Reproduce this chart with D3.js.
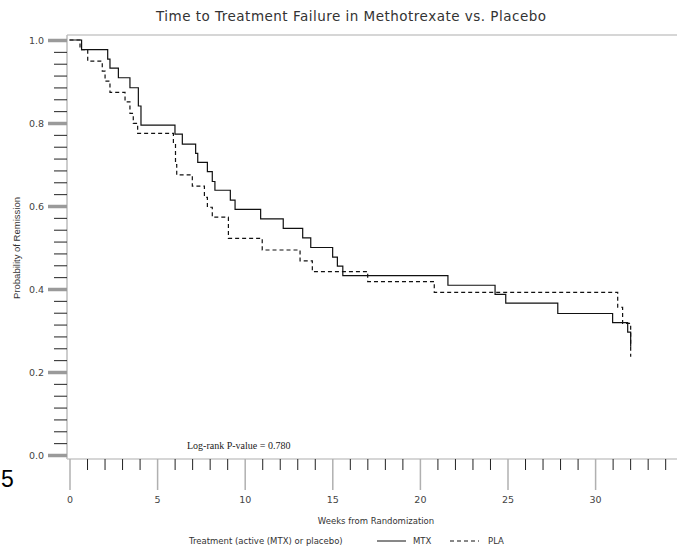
<!DOCTYPE html>
<html>
<head>
<meta charset="utf-8">
<script src="https://cdn.jsdelivr.net/npm/d3@7"></script>
<style>
  body { margin: 0; background: #fff; }
  svg { display: block; }
</style>
</head>
<body>
<div id="chart"></div>
<script>
const width = 677;
const height = 546;

// Kaplan-Meier steps (weeks, survival)
const mtxWeeks = [0, 0.69, 2.18, 2.31, 2.79, 3.45, 3.93, 4.08, 6.02, 6.44, 7.2, 7.32, 7.87, 8.15, 8.3, 9.18, 9.45, 10.91, 12.2, 13.31, 13.77, 15.02, 15.29, 15.6, 21.6, 24.29, 24.9, 27.87, 31.0, 31.86, 32.03];
const mtxSurv = [1.0, 0.977, 0.954, 0.932, 0.909, 0.885, 0.841, 0.795, 0.773, 0.749, 0.727, 0.705, 0.683, 0.659, 0.638, 0.614, 0.592, 0.569, 0.546, 0.523, 0.5, 0.477, 0.455, 0.432, 0.409, 0.387, 0.366, 0.341, 0.319, 0.296, 0.261];
const plaWeeks = [0, 0.6, 1.04, 1.87, 2.03, 2.31, 3.17, 3.45, 3.64, 3.89, 5.93, 6.05, 6.12, 7.01, 7.7, 7.87, 8.15, 9.07, 11.0, 13.16, 13.86, 17.02, 20.82, 31.29, 31.57, 32.03];
const plaSurv = [1.0, 0.977, 0.949, 0.925, 0.901, 0.874, 0.851, 0.823, 0.799, 0.775, 0.75, 0.7, 0.675, 0.648, 0.621, 0.597, 0.573, 0.522, 0.494, 0.468, 0.442, 0.418, 0.392, 0.356, 0.317, 0.237];

const xMajorTicks = [0, 5, 10, 15, 20, 25, 30];
const yMajorTicks = [0, 0.2, 0.4, 0.6, 0.8, 1.0];
const seriesNames = ["MTX", "PLA"];

const titleText = "Time to Treatment Failure in Methotrexate vs. Placebo";
const xLabel = "Weeks from Randomization";
const yLabel = "Probability of Remission";
const legendTitle = "Treatment (active (MTX) or placebo)";
const pValueText = "Log-rank P-value = 0.780";

const axisX = 67;     // y axis line position
const axisY = 459;    // x axis line position

const x = d3.scaleLinear().domain([0, 35]).range([69.5, 682.7]);
const y = d3.scaleLinear().domain([0, 1]).range([455, 40]);

const svg = d3.select("#chart")
  .append("svg")
  .attr("width", width)
  .attr("height", height);

svg.append("rect").attr("width", width).attr("height", height).attr("fill", "#fff");

// title
svg.append("text")
  .attr("x", 351)
  .attr("y", 21)
  .attr("text-anchor", "middle")
  .attr("font-family", "DejaVu Sans")
  .attr("font-size", 13.5)
  .attr("textLength", 390)
  .attr("lengthAdjust", "spacing")
  .attr("fill", "#333")
  .text(titleText);

// frame lines
svg.append("line")
  .attr("x1", axisX).attr("x2", width)
  .attr("y1", 35).attr("y2", 35)
  .attr("stroke", "#c8c8c8").attr("stroke-width", 1.5);
svg.append("line")
  .attr("x1", axisX).attr("x2", axisX)
  .attr("y1", 35).attr("y2", axisY)
  .attr("stroke", "#bdbdbd").attr("stroke-width", 1.5);
svg.append("line")
  .attr("x1", axisX).attr("x2", width)
  .attr("y1", axisY).attr("y2", axisY)
  .attr("stroke", "#c8c8c8").attr("stroke-width", 1.5);

// y axis: minor ticks (6 between majors) then major ticks with labels
const yMinor = [];
for (let i = 0; i < yMajorTicks.length - 1; i++) {
  const step = (yMajorTicks[i + 1] - yMajorTicks[i]) / 7;
  for (let k = 1; k < 7; k++) yMinor.push(yMajorTicks[i] + step * k);
}
svg.append("g")
  .attr("transform", `translate(${axisX},0)`)
  .call(d3.axisLeft(y).tickValues(yMinor).tickSize(13).tickFormat(""))
  .call(g => g.select(".domain").remove())
  .call(g => g.selectAll(".tick line").attr("stroke", "#222").attr("stroke-width", 1));

svg.append("g")
  .attr("transform", `translate(${axisX},0)`)
  .call(d3.axisLeft(y).tickValues(yMajorTicks).tickSize(19).tickPadding(4).tickFormat(d3.format(".1f")))
  .call(g => g.select(".domain").remove())
  .call(g => g.selectAll(".tick line").attr("stroke", "#9a9a9a").attr("stroke-width", 3.5))
  .call(g => g.selectAll(".tick text")
    .attr("font-family", "DejaVu Sans")
    .attr("font-size", 9.5)
    .attr("fill", "#444"));

// x axis: minor ticks every week, major every 5
const xMinor = d3.range(0, 35).filter(d => !xMajorTicks.includes(d));
svg.append("g")
  .attr("transform", `translate(0,${axisY})`)
  .call(d3.axisBottom(x).tickValues(xMinor).tickSize(11).tickFormat(""))
  .call(g => g.select(".domain").remove())
  .call(g => g.selectAll(".tick line").attr("stroke", "#222").attr("stroke-width", 1));

svg.append("g")
  .attr("transform", `translate(0,${axisY})`)
  .call(d3.axisBottom(x).tickValues(xMajorTicks).tickSize(31).tickPadding(6).tickFormat(d3.format("d")))
  .call(g => g.select(".domain").remove())
  .call(g => g.selectAll(".tick line").attr("stroke", "#b0b0b0").attr("stroke-width", 1.5))
  .call(g => g.selectAll(".tick text")
    .attr("font-family", "DejaVu Sans")
    .attr("font-size", 9.5)
    .attr("fill", "#444"));

// axis labels
svg.append("text")
  .attr("x", 376)
  .attr("y", 524)
  .attr("text-anchor", "middle")
  .attr("font-family", "DejaVu Sans")
  .attr("font-size", 8.5)
  .attr("fill", "#333")
  .text(xLabel);

svg.append("text")
  .attr("transform", "translate(20,248) rotate(-90)")
  .attr("text-anchor", "middle")
  .attr("font-family", "Liberation Sans")
  .attr("font-size", 9.5)
  .attr("fill", "#333")
  .text(yLabel);

// stray page number at the left
svg.append("text")
  .attr("x", 1)
  .attr("y", 487)
  .attr("font-family", "Liberation Sans")
  .attr("font-size", 23)
  .attr("fill", "#000")
  .text("5");

// survival curves
const line = d3.line()
  .x(d => x(d[0]))
  .y(d => y(d[1]))
  .curve(d3.curveStepAfter);

const mtxData = mtxWeeks.map((w, i) => [w, mtxSurv[i]]);
const plaData = plaWeeks.map((w, i) => [w, plaSurv[i]]);

svg.append("path")
  .datum(plaData)
  .attr("fill", "none")
  .attr("stroke", "#111")
  .attr("stroke-width", 1.2)
  .attr("stroke-dasharray", "4,3")
  .attr("d", line);

svg.append("path")
  .datum(mtxData)
  .attr("fill", "none")
  .attr("stroke", "#111")
  .attr("stroke-width", 1.2)
  .attr("d", line);

// p-value note
svg.append("text")
  .attr("x", 187)
  .attr("y", 449)
  .attr("font-family", "Liberation Serif")
  .attr("font-size", 10)
  .attr("fill", "#222")
  .text(pValueText);

// legend
const legendY = 541;
svg.append("text")
  .attr("x", 189)
  .attr("y", legendY + 3)
  .attr("font-family", "DejaVu Sans")
  .attr("font-size", 8.5)
  .attr("fill", "#333")
  .text(legendTitle);

const legendItems = [
  { name: seriesNames[0], x0: 377, dash: null, tx: 413 },
  { name: seriesNames[1], x0: 450, dash: "4,3", tx: 488 }
];
legendItems.forEach(d => {
  svg.append("line")
    .attr("x1", d.x0).attr("x2", d.x0 + 29)
    .attr("y1", legendY).attr("y2", legendY)
    .attr("stroke", "#111").attr("stroke-width", 1)
    .attr("stroke-dasharray", d.dash);
  svg.append("text")
    .attr("x", d.tx)
    .attr("y", legendY + 3)
    .attr("font-family", "DejaVu Sans")
    .attr("font-size", 8.5)
    .attr("fill", "#333")
    .text(d.name);
});
</script>
</body>
</html>
